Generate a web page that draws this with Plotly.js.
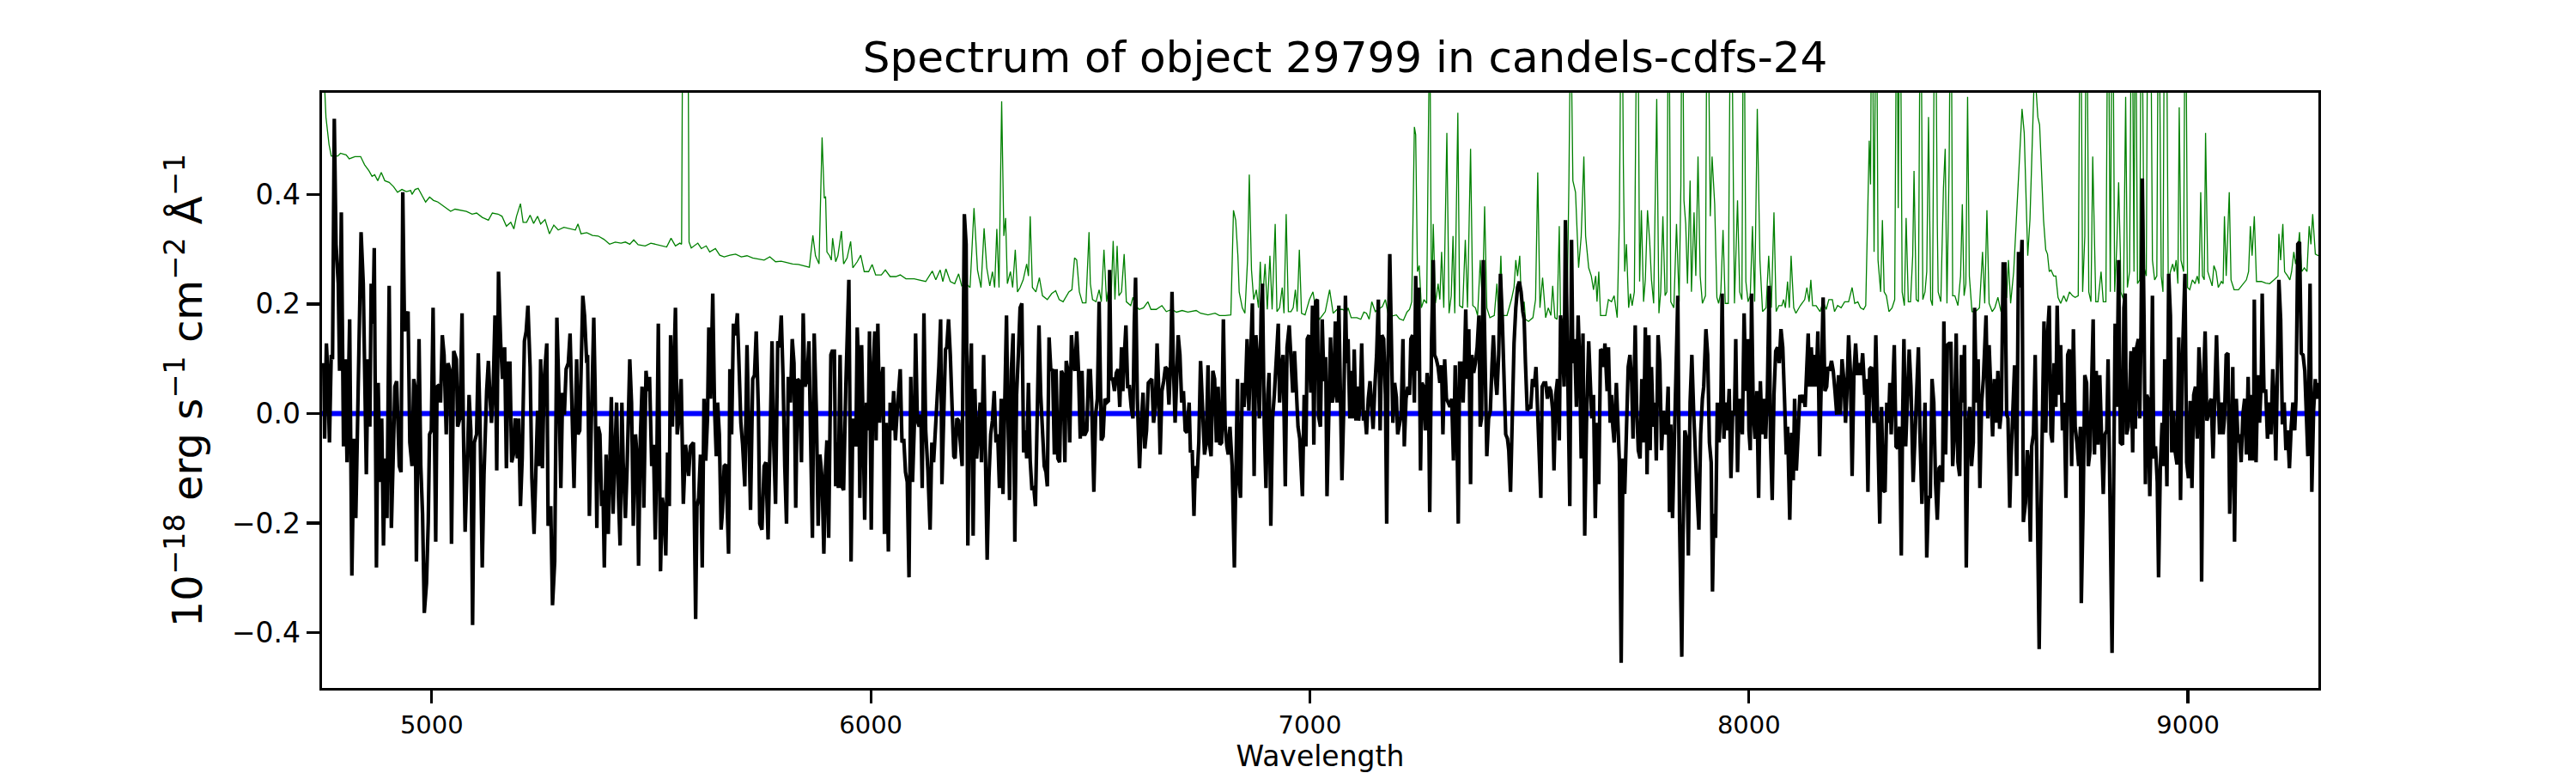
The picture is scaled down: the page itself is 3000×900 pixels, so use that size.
<!DOCTYPE html>
<html>
<head>
<meta charset="utf-8">
<script src="https://cdn.plot.ly/plotly-3.0.1.min.js"></script>
<style>
  html, body { margin: 0; padding: 0; background: #ffffff; }
  #plot { width: 3000px; height: 900px; }
</style>
</head>
<body>
<div id="plot"></div>
<script>
// spectrum of object 29799 - flux (black), noise (green), zero level (blue)

// flux (wavelength in Angstrom, flux in 1e-18 cgs)
const wave1 = [4754,4756,4760,4763,4767,4771,4774,4778,4782,4787,4790,4794,4799,4803,4807,4810,4813,4818,4823,4827,4830,4834,4839,4844,4851,4855,4859,4862,4866,4869,4874,4878,4882,4886,4890,4894,4898,4903,4908,4913,4916,4920,4926,4930,4934,4938,4942,4946,4950,4955,4959,4962,4965,4971,4975,4979,4983,4988,4992,4995,4999,5003,5009,5012,5017,5020,5024,5028,5033,5037,5042,5045,5050,5056,5059,5064,5069,5072,5076,5082,5085,5089,5093,5097,5102,5106,5110,5115,5119,5125,5129,5132,5136,5140,5144,5148,5152,5157,5161,5166,5170,5174,5178,5182,5186,5190,5195,5198,5202,5206,5211,5215,5219,5224,5228,5233,5237,5241,5245,5248,5252,5256,5262,5265,5271,5275,5280,5285,5290,5294,5298,5302,5306,5311,5315,5319,5324];
const flux1 = [0.092,-0.046,0.128,0.078,-0.053,0.107,0.099,0.538,0.309,0.237,0.078,0.367,-0.060,0.099,-0.089,0.078,0.172,-0.296,-0.046,-0.191,-0.038,0.164,0.331,0.237,-0.111,0.099,-0.024,0.237,0.164,0.302,-0.281,0.056,-0.125,-0.009,-0.241,-0.082,-0.191,0.233,-0.209,-0.053,0.049,0.059,-0.096,-0.107,0.404,0.150,0.179,0.186,-0.053,-0.096,0.063,0.049,-0.270,0.136,-0.096,-0.183,-0.364,-0.310,-0.198,-0.038,-0.031,0.193,-0.234,0.049,0.052,0.020,0.143,0.107,-0.038,0.092,0.078,-0.238,0.114,0.099,-0.024,-0.009,0.183,-0.024,-0.216,-0.060,0.034,-0.031,-0.386,-0.053,-0.038,0.110,-0.020,-0.281,-0.111,0.041,0.096,0.041,-0.017,0.049,0.179,-0.104,0.259,0.128,0.063,0.121,-0.100,0.092,0.092,-0.089,-0.075,-0.009,-0.082,-0.009,-0.169,-0.082,0.132,0.150,0.197,0.085,-0.118,-0.220,-0.082,0.005,-0.096,0.099,-0.100,0.063,0.128,-0.205,-0.169,-0.350,-0.270,0.175,0.027,-0.136,0.038,-0.002,0.081,0.092,0.146,-0.009,-0.136];

const wave2 = [5330,5333,5337,5341,5344,5348,5353,5355,5359,5364,5369,5372,5376,5379,5383,5387,5390,5393,5397,5402,5405,5409,5413,5417,5421,5425,5429,5433,5436,5441,5445,5451,5455,5459,5464,5468,5471,5475,5479,5483,5488,5492,5496,5501,5505,5509,5513,5516,5521,5525,5529,5533,5537,5541,5544,5548,5552,5555,5559,5563,5568,5573,5578,5581,5585,5589,5593,5596,5601,5604,5608,5612,5616,5620,5624,5628,5631,5635,5640,5644,5648,5651,5655,5659,5662,5666,5670,5676,5679,5683,5687,5692,5696,5700,5704,5708,5713,5718,5722,5726,5731,5735,5739,5744,5747,5752,5757,5761,5766,5770,5775,5779,5783,5788,5792,5796,5800,5804,5808,5812,5817,5821,5825,5829,5833,5837,5842,5846,5850,5855,5859,5863,5867,5871,5876,5880,5884,5889,5893,5897,5900,5904,5909,5912];
const flux2 = [0.099,-0.038,-0.031,0.150,0.215,0.179,0.092,0.107,-0.187,0.005,0.175,0.049,-0.209,-0.024,-0.038,-0.169,-0.140,-0.281,-0.075,-0.220,-0.125,0.030,-0.183,-0.057,0.020,-0.147,-0.241,0.020,-0.089,-0.191,-0.096,0.099,0.020,-0.205,-0.038,-0.082,-0.278,-0.046,0.049,-0.172,0.078,0.041,0.067,-0.096,-0.057,-0.230,-0.060,0.164,-0.288,-0.154,-0.176,-0.259,-0.071,-0.169,0.143,-0.024,0.146,0.193,-0.038,-0.009,0.063,-0.165,-0.057,-0.078,-0.114,-0.060,-0.057,-0.053,-0.375,-0.169,-0.154,-0.075,-0.281,0.027,-0.086,-0.009,0.157,0.027,0.219,0.012,-0.078,0.020,-0.038,-0.212,-0.180,-0.096,-0.093,-0.256,0.081,-0.038,0.164,0.143,0.183,0.099,-0.017,-0.057,-0.133,0.125,-0.017,-0.176,0.063,0.070,0.150,0.005,-0.201,-0.212,-0.096,-0.089,-0.230,-0.038,0.132,-0.060,-0.165,0.132,0.121,0.179,0.070,-0.096,-0.201,0.067,0.020,0.136,0.092,-0.172,0.063,0.059,-0.089,0.183,0.049,0.063,0.132,-0.053,-0.227,0.146,0.005,-0.205,-0.075,-0.118,-0.256,-0.096,-0.049,-0.227,0.107,0.114];

const wave3 = [5917,5920,5924,5926,5930,5934,5938,5943,5947,5950,5955,5959,5962,5966,5969,5972,5975,5979,5983,5986,5990,5994,5997,6001,6005,6009,6012,6016,6020,6024,6028,6031,6035,6040,6044,6048,6052,6056,6059,6063,6067,6071,6075,6079,6083,6087,6091,6095,6099,6102,6106,6110,6114,6117,6121,6125,6130,6135,6139,6143,6147,6151,6155,6159,6162,6166,6170,6173,6177,6181,6185,6189,6192,6196,6200,6204,6208,6213,6217,6221,6225,6229,6233,6237,6241,6245,6249,6252,6257,6260,6265,6269,6273,6277,6281,6285,6289,6293,6297,6301,6305,6309,6312,6316,6320,6324,6328,6332,6336,6340,6344,6348,6352,6355,6359,6363,6367,6371,6375,6379,6383,6387,6391,6395,6399,6402,6406,6410,6414,6418,6422,6426,6430,6434,6438,6442,6445,6449,6453,6457,6461,6465,6469,6473,6477,6481,6485,6488,6492,6496];
const flux3 = [0.114,-0.133,-0.053,-0.136,0.107,-0.133,-0.140,0.049,0.136,0.244,-0.270,-0.009,-0.038,-0.060,0.157,0.092,-0.154,0.125,-0.046,-0.194,0.020,-0.031,0.150,-0.212,0.078,0.150,-0.049,0.164,-0.017,0.063,0.085,-0.220,-0.017,-0.252,0.020,-0.031,0.041,-0.049,-0.009,0.034,0.081,-0.053,-0.046,-0.107,-0.125,-0.299,0.067,-0.125,-0.024,0.146,-0.013,-0.024,-0.002,-0.136,0.183,-0.031,-0.104,-0.212,-0.053,-0.089,-0.042,0.027,0.085,0.172,-0.129,0.034,0.117,0.121,0.172,0.107,0.020,-0.078,-0.082,-0.009,-0.013,-0.067,-0.096,0.364,0.309,-0.241,0.049,0.128,-0.223,0.045,-0.082,-0.031,0.020,-0.089,0.107,-0.024,-0.267,-0.118,-0.038,-0.013,0.041,-0.053,-0.038,-0.136,0.027,-0.147,0.023,0.179,0.012,-0.158,0.078,0.146,-0.234,0.034,0.107,0.193,0.201,-0.071,-0.031,-0.082,0.056,-0.086,-0.140,-0.133,-0.169,0.038,0.161,0.034,-0.053,-0.096,-0.107,-0.133,0.139,0.078,0.081,-0.075,0.081,-0.082,-0.089,0.078,0.070,-0.089,0.096,0.078,-0.053,0.143,0.088,0.078,0.150,0.078,-0.046,0.078,-0.038,-0.038,-0.031,0.078];

const wave4 = [6500,6503,6508,6512,6516,6520,6525,6529,6533,6537,6541,6544,6547,6551,6555,6559,6563,6567,6571,6574,6577,6581,6585,6589,6593,6597,6600,6603,6607,6612,6616,6620,6624,6628,6632,6636,6640,6644,6648,6652,6655,6659,6663,6667,6671,6675,6679,6683,6686,6689,6693,6696,6700,6704,6708,6712,6716,6720,6725,6728,6732,6736,6739,6743,6747,6751,6755,6760,6764,6768,6771,6775,6779,6783,6787,6791,6795,6799,6803,6807,6811,6814,6818,6823,6828,6831,6835,6838,6842,6846,6850,6854,6857,6861,6865,6869,6873,6877,6881,6885,6889,6892,6896,6900,6904,6907,6911,6915,6919,6923,6928,6931,6935,6939,6944,6948,6953,6957,6961,6965,6969,6973,6977,6983,6987,6991,6994,6998,7002,7006,7009,7013,7017,7020,7024,7028,7032,7036,7039,7043,7047,7051,7054,7058,7062,7066,7069,7073,7077,7081,7084];
const flux4 = [0.078,0.020,-0.143,-0.002,0.027,0.204,-0.049,-0.042,0.027,0.020,0.023,0.262,0.063,0.063,0.041,0.074,0.081,0.012,0.121,0.041,0.099,0.161,0.049,0.049,0.012,-0.009,0.164,0.248,0.027,-0.100,-0.017,0.038,-0.064,-0.031,0.056,0.059,0.063,-0.017,0.012,0.128,0.063,-0.075,0.041,0.059,0.085,0.081,0.016,0.099,0.222,0.092,-0.017,0.049,0.143,0.107,0.020,0.041,-0.031,-0.035,0.020,-0.071,-0.067,-0.187,-0.096,-0.118,-0.053,0.096,0.005,-0.075,-0.053,0.088,-0.053,-0.078,0.078,0.063,-0.053,0.049,-0.057,-0.053,0.172,-0.024,-0.060,-0.075,-0.024,-0.096,-0.281,-0.125,0.063,-0.118,-0.154,0.056,0.012,0.059,0.136,0.005,0.092,0.201,-0.114,0.143,0.099,-0.009,0.186,0.237,-0.017,-0.136,0.034,0.074,-0.205,-0.009,0.034,0.107,0.164,0.020,0.085,0.107,-0.133,0.121,0.161,0.099,0.038,0.114,0.041,-0.024,-0.046,-0.151,0.034,-0.060,0.136,0.143,0.038,0.197,-0.057,0.204,0.208,-0.006,-0.024,0.172,0.059,0.103,-0.151,0.005,0.139,0.020,0.034,0.168,0.020,0.197,0.063,-0.122,0.005,0.215,0.092];

const wave5 = [7087,7091,7095,7098,7101,7105,7108,7111,7115,7118,7122,7125,7129,7133,7137,7140,7144,7148,7152,7156,7160,7164,7168,7172,7175,7178,7182,7185,7189,7193,7197,7200,7204,7208,7212,7215,7219,7223,7227,7230,7234,7238,7241,7245,7248,7252,7255,7259,7263,7267,7270,7273,7277,7281,7284,7288,7292,7296,7300,7303,7307,7311,7315,7319,7323,7327,7331,7335,7338,7341,7345,7349,7352,7355,7358,7362,7366,7369,7373,7377,7381,7385,7388,7391,7395,7399,7403,7407,7411,7415,7418,7422,7426,7430,7434,7438,7442,7446,7450,7453,7457,7461,7465,7469,7473,7477,7481,7485,7488,7491,7495,7499,7503,7507,7511,7515,7519,7523,7526,7529,7533,7537,7541,7545,7549,7553,7556,7560,7564,7568,7571,7575,7579,7582,7586,7589,7592,7596,7599,7603,7607,7611,7614,7618,7622,7626,7630,7635,7639,7642,7646,7650,7654,7658,7662,7666,7669,7672];
const flux5 = [0.136,-0.009,0.078,-0.009,0.117,-0.013,0.049,-0.013,0.027,0.128,-0.013,0.005,-0.038,0.027,0.059,0.020,-0.028,0.049,0.107,0.208,-0.031,0.143,0.136,0.034,-0.201,0.099,0.291,0.164,-0.017,0.056,0.030,-0.038,-0.017,-0.002,0.136,-0.060,0.027,0.049,0.034,0.136,0.143,0.020,0.251,0.078,0.230,-0.104,0.056,0.049,-0.031,0.074,0.049,-0.180,0.128,0.280,0.107,0.099,0.085,0.056,0.088,-0.038,0.099,0.027,0.020,0.012,0.027,-0.086,0.088,-0.038,-0.201,0.092,0.092,0.020,0.092,0.190,0.063,0.154,-0.129,0.107,0.074,0.092,0.121,0.179,-0.024,-0.009,0.280,0.085,-0.078,-0.009,0.005,0.092,0.143,0.070,0.034,0.107,0.255,0.179,0.092,-0.038,-0.046,-0.067,-0.143,0.027,0.128,0.193,0.230,0.241,0.222,0.186,0.172,0.092,0.005,0.012,0.009,0.063,0.049,0.085,-0.009,-0.096,-0.154,0.049,0.056,0.056,0.027,0.049,0.041,0.005,-0.104,0.034,0.063,-0.049,0.179,0.136,0.049,0.353,0.164,-0.017,-0.169,0.317,0.092,0.136,0.012,0.179,0.107,-0.082,0.146,-0.223,-0.017,0.132,0.041,-0.009,0.034,-0.191,-0.017,-0.129,0.117,0.114,0.085,0.128];

const wave6 = [7677,7680,7684,7687,7690,7693,7698,7701,7705,7709,7713,7717,7721,7725,7729,7733,7736,7741,7744,7748,7752,7756,7760,7764,7768,7772,7775,7778,7782,7786,7789,7793,7797,7801,7805,7809,7812,7816,7819,7822,7826,7830,7834,7838,7842,7847,7850,7854,7858,7862,7866,7870,7874,7878,7882,7886,7890,7894,7897,7902,7906,7910,7914,7917,7920,7924,7928,7932,7936,7939,7943,7947,7951,7955,7959,7963,7967,7970,7974,7978,7982,7985,7989,7993,7997,8000,8003,8006,8010,8014,8018,8022,8026,8030,8034,8038,8042,8046,8049,8053,8057,8061,8065,8069,8073,8077,8081,8085,8088,8093,8097,8101,8104,8108,8112,8116,8120,8124,8128,8132,8135,8138,8142,8146,8150,8153,8157,8161,8165,8169,8173,8177,8180,8184,8188,8192,8196,8200,8204,8208,8212,8216,8220,8223,8227,8231,8235,8239,8243,8247,8251,8255,8259];
const flux6 = [0.041,0.121,-0.017,0.034,-0.024,-0.053,0.056,-0.031,-0.089,-0.455,-0.082,-0.147,-0.002,0.085,0.107,0.056,-0.046,0.161,0.020,-0.067,-0.082,0.063,-0.053,0.157,-0.111,0.143,-0.067,0.085,-0.024,0.020,-0.086,0.143,0.092,-0.067,0.005,-0.038,-0.031,0.049,-0.180,-0.020,-0.191,-0.067,0.107,0.215,-0.198,-0.444,-0.220,-0.031,-0.046,-0.259,0.020,0.107,0.005,-0.089,-0.147,-0.212,-0.038,0.027,0.049,0.154,0.107,-0.053,-0.089,-0.325,-0.183,-0.227,0.020,-0.053,0.012,0.219,-0.046,0.020,-0.031,0.045,-0.118,0.005,-0.002,0.136,-0.107,0.027,-0.009,-0.038,0.183,0.041,0.136,-0.031,-0.067,0.219,-0.002,-0.046,0.041,-0.154,0.059,-0.038,0.027,-0.046,0.041,0.233,-0.046,-0.158,0.034,0.114,0.121,0.092,0.154,0.121,0.027,-0.075,-0.024,-0.194,-0.035,-0.122,0.027,-0.104,-0.038,0.034,0.020,0.034,0.012,0.092,0.146,0.049,0.121,0.049,0.107,0.049,0.150,-0.078,0.049,0.212,0.041,0.049,0.085,0.078,0.096,0.078,0.041,-0.002,0.070,-0.002,0.099,0.063,-0.017,0.034,0.143,0.078,-0.114,0.070,0.128,0.070,0.092,0.070,0.110];

const wave7 = [8264,8267,8271,8275,8279,8283,8285,8289,8293,8298,8302,8306,8310,8314,8318,8321,8324,8328,8331,8335,8339,8343,8347,8350,8353,8357,8361,8365,8369,8374,8378,8382,8386,8390,8394,8398,8401,8405,8409,8413,8417,8421,8425,8429,8433,8437,8441,8444,8448,8452,8456,8460,8464,8468,8472,8476,8480,8484,8488,8491,8495,8499,8503,8507,8511,8514,8518,8522,8526,8530,8534,8540,8544,8547,8551,8555,8559,8563,8567,8571,8575,8579,8583,8587,8590,8594,8597,8601,8605,8610,8614,8618,8622,8625,8630,8634,8637,8641,8644,8648,8652,8656,8661,8665,8669,8672,8676,8680,8684,8688,8691,8695,8699,8702,8706,8710,8714,8718,8722,8726,8730,8735,8739,8743,8747,8751,8755,8757,8761,8765,8769,8773,8777,8781,8784,8787,8791,8795,8799,8803,8807,8811,8815,8818,8823,8827,8830,8834,8838,8842,8846];
const flux7 = [0.034,0.063,-0.143,0.081,0.085,0.020,-0.017,0.143,-0.017,-0.201,0.012,-0.140,-0.143,0.020,-0.017,0.056,-0.038,0.063,0.125,-0.060,-0.064,-0.024,-0.259,-0.009,0.136,-0.060,0.034,0.117,0.049,-0.125,-0.046,0.049,0.121,-0.053,-0.165,-0.067,0.020,-0.263,-0.151,-0.154,0.063,0.020,-0.125,-0.194,-0.100,-0.096,-0.125,0.168,-0.075,0.125,0.128,0.128,-0.096,-0.038,0.146,-0.089,-0.114,0.107,0.020,0.125,-0.281,-0.024,0.012,-0.096,-0.053,0.193,0.020,0.099,-0.136,0.020,0.063,0.179,-0.009,0.125,0.020,-0.042,0.063,-0.017,0.078,-0.028,0.005,0.273,0.273,-0.002,-0.009,-0.172,-0.082,-0.009,0.088,-0.114,0.295,0.230,0.317,-0.198,-0.162,-0.067,-0.089,-0.234,-0.060,-0.038,0.107,-0.114,-0.430,-0.183,-0.009,0.168,-0.035,0.143,0.197,-0.038,-0.053,0.092,0.012,0.197,0.034,0.125,-0.031,0.020,-0.154,0.107,0.117,-0.096,0.154,-0.024,-0.053,-0.096,-0.024,-0.346,-0.176,0.070,0.056,-0.096,-0.067,0.056,0.172,-0.075,0.078,-0.057,0.070,-0.038,-0.147,-0.038,-0.031,0.099,-0.198,-0.437,-0.191,0.164,0.012,0.280,-0.053];

const wave8 = [8851,8854,8857,8860,8864,8867,8870,8874,8877,8880,8883,8887,8890,8893,8896,8900,8903,8906,8909,8913,8916,8919,8922,8926,8930,8933,8937,8941,8944,8947,8952,8956,8960,8963,8967,8971,8975,8979,8983,8987,8990,8993,8997,9001,9005,9009,9013,9017,9021,9025,9029,9031,9035,9039,9043,9047,9051,9053,9057,9061,9065,9068,9072,9076,9080,9083,9087,9091,9095,9099,9102,9106,9110,9114,9117,9121,9125,9129,9133,9137,9141,9145,9149,9151,9155,9159,9163,9167,9169,9173,9177,9181,9185,9189,9193,9197,9200,9204,9207,9211,9215,9219,9223,9227,9231,9235,9239,9243,9246,9250,9254,9258,9262,9266,9270,9273,9278,9282,9286,9290,9293,9297];
const flux8 = [-0.057,0.193,0.219,-0.038,-0.024,0.034,0.114,-0.071,0.121,-0.028,0.121,0.136,-0.009,0.150,0.429,0.164,-0.129,0.034,0.027,-0.151,-0.031,0.215,-0.082,-0.060,-0.125,-0.299,-0.096,-0.017,-0.096,0.099,-0.133,0.255,0.179,-0.071,0.005,-0.071,-0.093,0.139,-0.158,0.092,0.186,0.255,-0.089,-0.118,0.023,-0.136,0.034,0.049,-0.046,0.121,0.049,-0.307,0.049,0.150,-0.013,-0.002,0.023,0.027,-0.082,0.020,0.143,0.049,-0.038,0.020,-0.038,-0.009,0.107,0.110,-0.183,-0.053,0.085,-0.234,0.027,-0.053,-0.038,-0.089,-0.002,0.027,-0.075,0.067,-0.086,0.034,-0.086,0.208,-0.089,0.070,-0.017,0.063,0.219,0.041,0.041,-0.046,0.020,-0.038,0.081,0.012,-0.086,0.092,0.244,0.172,-0.020,0.020,-0.067,-0.031,-0.100,-0.024,0.020,-0.031,0.027,0.309,0.313,0.110,0.107,0.078,-0.002,-0.078,0.237,-0.143,0.005,0.063,0.027,0.056];

// noise spectrum (green); sky lines that run off the top are given rough values
const noiseWave = [
  4751,4753,4759,4766,4771,4786,4792,4805,4812,4825,4838,4847,4857,4864,4870,4877,4885,4893,4903,4913,4922,4932,4942,4952,4955,4962,4969,4978,4986,4995,5004,5014,5027,5043,5053,5066,5079,5092,5102,5115,5129,5138,5151,5160,5170,5180,5187,5193,5202,5208,5216,5224,5232,5241,5248,5258,5268,5278,5288,5301,5314,
  5327,5333,5340,5353,5366,5379,5392,5405,5418,5431,5441,5451,5460,5470,5486,5499,5516,5529,5535,5545,5555,5565,5569,5573,5577,5582,5586,5591,5597,5606,5614,5625,5633,5646,5656,5666,5679,5692,5705,5718,5731,5744,5757,5770,5783,5796,5809,5822,5835,5848,5860,5868,5874,5882,5889,5894,5897,5900,5906,5910,
  5913,5920,5925,5933,5938,5946,5954,5959,5969,5977,5985,5995,6003,6011,6024,6033,6044,6057,6067,6080,6099,6109,6125,6140,6148,6158,6164,6171,6181,6191,6200,6207,6217,6226,6235,6243,6251,6258,6264,6271,6277,6282,6287,6292,6298,6303,6307,6311,6318,6323,6329,6334,6340,6347,6355,6359,6363,6368,6376,6384,6391,6402,6412,6421,6429,6438,6451,6458,6464,6469,6475,6482,6490,6497,
  6500,6505,6513,6520,6525,6531,6537,6543,6547,6552,6556,6561,6565,6571,6577,6582,6592,6597,6603,6611,6621,6631,6638,6650,6663,6673,6686,6696,6709,6722,6732,6741,6751,6768,6784,6794,6807,6820,6826,6831,6836,6839,6846,6852,6858,6862,6867,6872,6878,6883,6887,6891,6898,6903,6909,6914,6921,6925,6931,6937,6941,6946,6951,6957,6962,6967,6971,6976,6981,6989,6999,7007,7015,7022,7035,7045,7053,7062,7074,7084,
  7087,7094,7107,7116,7123,7129,7135,7141,7149,7155,7165,7172,7178,7188,7197,7204,7213,7221,7227,7232,7238,7241,7245,7249,7254,7260,7266,7273,7277,7281,7286,7292,7296,7300,7305,7312,7317,7322,7326,7330,7337,7341,7348,7354,7359,7366,7371,7377,7382,7388,7393,7398,7403,7410,7420,7426,7430,7435,7439,7449,7459,7465,7469,7473,7478,7482,7488,7491,7498,7508,7514,7519,7524,7530,7537,7543,7549,7553,7558,7563,7568,7571,7577,7586,7590,7594,7599,7605,7612,7618,7624,7628,7635,7641,7646,7651,7654,7658,7662,7669,
  7674,7680,7687,7693,7700,7705,7710,7714,7717,7721,7726,7730,7734,7739,7746,7751,7755,7760,7764,7769,7774,7778,7783,7790,7795,7799,7804,7809,7813,7817,7822,7829,7835,7841,7845,7848,7852,7856,7860,7866,7869,7875,7879,7884,7889,7894,7901,7905,7912,7916,7922,7927,7931,7936,7941,7946,7953,7959,7964,7967,7974,7979,7984,7988,7993,7998,8003,8008,8013,8019,8025,8031,8039,8045,8051,8057,8062,8068,8075,8079,8083,8088,8092,8096,8102,8107,8117,8127,8132,8137,8141,8145,8153,8162,8169,8176,8182,8190,8195,8202,8210,8218,8227,8235,8241,8248,8254,
  8261,8266,8270,8274,8277,8280,8285,8290,8294,8300,8304,8308,8313,8319,8326,8332,8337,8340,8344,8349,8354,8358,8363,8368,8373,8376,8381,8386,8391,8396,8401,8405,8409,8414,8418,8424,8429,8431,8437,8443,8447,8451,8456,8460,8464,8469,8476,8482,8486,8490,8494,8498,8502,8508,8516,8525,8532,8537,8542,8547,8554,8560,8567,8574,8580,8587,8591,8596,8603,8609,8616,8622,8627,8631,8635,8640,8645,8650,8654,8658,8662,8668,8671,8676,8680,8684,8688,8694,8699,8704,8710,8717,8723,8730,8737,8743,8750,8755,8760,8765,8769,8774,8779,8783,8786,8790,8795,8802,8807,8813,8818,8823,8828,8833,8838,8842,8846,
  8847,8853,8858,8862,8867,8872,8877,8880,8885,8890,8894,8900,8905,8909,8914,8919,8924,8929,8933,8939,8943,8947,8950,8955,8960,8965,8969,8973,8977,8980,8984,8990,8994,8999,9004,9010,9016,9021,9025,9029,9033,9037,9040,9045,9050,9055,9059,9064,9069,9076,9080,9083,9087,9094,9098,9105,9115,9125,9133,9138,9142,9146,9151,9156,9167,9177,9186,9196,9205,9207,9211,9216,9220,9227,9232,9236,9241,9245,9250,9254,9259,9265,9271,9276,9280,9284,9290,9297
];
const noiseFlux = [
  0.80,0.65,0.541,0.491,0.470,0.470,0.475,0.472,0.465,0.469,0.469,0.454,0.443,0.433,0.436,0.425,0.440,0.425,0.422,0.414,0.404,0.409,0.405,0.407,0.400,0.409,0.411,0.398,0.386,0.395,0.389,0.386,0.378,0.369,0.373,0.371,0.369,0.364,0.366,0.358,0.353,0.366,0.364,0.360,0.342,0.349,0.337,0.360,0.383,0.349,0.349,0.362,0.347,0.360,0.346,0.354,0.328,0.344,0.335,0.340,0.338,
  0.335,0.346,0.328,0.330,0.325,0.324,0.318,0.309,0.313,0.311,0.313,0.309,0.317,0.308,0.306,0.311,0.308,0.306,0.304,0.320,0.306,0.311,0.309,1.0,1.6,1.0,0.313,0.302,0.306,0.311,0.301,0.306,0.295,0.301,0.289,0.286,0.289,0.291,0.286,0.288,0.284,0.282,0.280,0.286,0.277,0.278,0.275,0.273,0.272,0.270,0.267,0.325,0.288,0.273,0.504,0.393,0.396,0.295,0.288,0.280,
  0.320,0.277,0.288,0.333,0.273,0.284,0.314,0.266,0.277,0.289,0.259,0.259,0.272,0.253,0.253,0.262,0.250,0.250,0.253,0.246,0.246,0.244,0.241,0.260,0.244,0.262,0.241,0.264,0.241,0.237,0.255,0.233,0.237,0.230,0.375,0.262,0.230,0.338,0.266,0.233,0.259,0.230,0.337,0.230,0.570,0.324,0.357,0.237,0.259,0.230,0.299,0.222,0.230,0.244,0.273,0.251,0.360,0.230,0.222,0.248,0.215,0.208,0.219,0.224,0.208,0.204,0.222,0.226,0.284,0.280,0.222,0.202,0.202,0.331,
  0.237,0.208,0.204,0.226,0.204,0.299,0.204,0.237,0.208,0.315,0.208,0.306,0.215,0.222,0.291,0.204,0.197,0.212,0.197,0.190,0.193,0.204,0.190,0.190,0.197,0.186,0.190,0.185,0.188,0.185,0.186,0.188,0.183,0.180,0.183,0.179,0.179,0.180,0.371,0.353,0.288,0.222,0.193,0.183,0.280,0.436,0.262,0.208,0.226,0.193,0.277,0.193,0.273,0.190,0.288,0.190,0.346,0.186,0.193,0.230,0.183,0.364,0.186,0.186,0.193,0.226,0.186,0.299,0.183,0.180,0.208,0.222,0.183,0.172,0.186,0.226,0.183,0.190,0.190,0.186,
  0.193,0.175,0.175,0.172,0.185,0.183,0.172,0.204,0.186,0.190,0.195,0.208,0.183,0.178,0.180,0.173,0.170,0.185,0.190,0.204,0.523,0.509,0.259,0.270,0.193,0.208,0.201,0.75,0.193,0.346,0.201,0.237,0.208,0.295,0.193,0.512,0.183,0.215,0.324,0.183,0.549,0.197,0.193,0.317,0.193,0.483,0.197,0.193,0.179,0.280,0.197,0.378,0.193,0.175,0.179,0.237,0.179,0.288,0.179,0.179,0.208,0.230,0.280,0.251,0.288,0.193,0.204,0.172,0.168,0.175,0.208,0.440,0.193,0.248,0.175,0.193,0.179,0.233,0.175,0.172,0.342,0.172,0.172,0.193,0.425,0.75,0.425,0.404,0.266,0.324,0.469,0.324,0.266,0.251,0.226,0.251,0.204,0.259,0.179,0.179,
  0.179,0.208,0.204,0.215,0.175,0.360,0.9,0.454,0.259,0.309,0.193,0.219,0.197,0.222,0.9,0.241,0.371,0.204,0.244,0.371,0.313,0.244,0.201,0.574,0.183,0.222,0.360,0.215,0.222,0.9,0.204,0.193,0.346,0.204,0.418,0.9,0.389,0.346,0.237,0.425,0.222,0.367,0.251,0.469,0.251,0.201,0.215,0.9,0.360,0.469,0.382,0.212,0.201,0.222,0.335,0.201,0.201,0.9,0.375,0.201,0.389,0.222,0.208,0.9,0.241,0.204,0.215,0.342,0.204,0.556,0.280,0.186,0.193,0.288,0.193,0.367,0.186,0.197,0.197,0.208,0.193,0.241,0.193,0.288,0.193,0.183,0.197,0.208,0.230,0.204,0.244,0.197,0.197,0.186,0.204,0.190,0.208,0.208,0.186,0.197,0.193,0.204,0.204,0.230,0.201,0.204,0.193,
  0.190,0.197,0.375,0.498,0.418,0.9,0.295,0.9,0.280,0.222,0.353,0.222,0.215,0.186,0.193,0.208,0.9,0.375,0.9,0.222,0.197,0.357,0.204,0.204,0.288,0.443,0.208,0.204,0.9,0.208,0.222,0.259,0.541,0.208,0.197,0.9,0.346,0.222,0.204,0.411,0.483,0.201,0.454,0.9,0.215,0.215,0.197,0.251,0.382,0.215,0.237,0.578,0.251,0.186,0.186,0.193,0.295,0.201,0.371,0.201,0.186,0.193,0.212,0.186,0.204,0.212,0.280,0.201,0.259,0.353,0.476,0.556,0.512,0.411,0.288,0.353,0.476,0.62,0.592,0.541,0.527,0.418,0.353,0.299,0.291,0.259,0.262,0.251,0.251,0.212,0.201,0.215,0.204,0.222,0.215,0.212,0.215,0.9,0.222,0.324,0.9,0.222,0.204,0.469,0.346,0.204,0.204,0.259,0.204,0.204,0.9,0.222,0.9,0.222,0.309,0.422,0.288,
  0.222,0.208,0.578,0.230,0.259,0.9,0.259,0.9,0.237,0.244,0.9,0.266,0.251,0.9,0.9,0.280,0.244,0.251,0.9,0.251,0.222,0.9,0.9,0.237,0.259,0.273,0.259,0.280,0.237,0.559,0.280,0.259,0.9,0.230,0.226,0.244,0.237,0.251,0.237,0.404,0.251,0.244,0.512,0.259,0.244,0.233,0.270,0.259,0.230,0.241,0.237,0.360,0.251,0.404,0.244,0.226,0.226,0.237,0.244,0.259,0.342,0.288,0.360,0.241,0.241,0.238,0.237,0.244,0.251,0.328,0.280,0.346,0.259,0.251,0.244,0.259,0.295,0.273,0.295,0.331,0.259,0.266,0.259,0.342,0.309,0.364,0.291,0.288
];

// zero level
const zeroWave = [4750, 9300];
const zeroFlux = [0, 0];

const xTicks = [5000, 6000, 7000, 8000, 9000];
const yTicks = [-0.4, -0.2, 0.0, 0.2, 0.4];
const yTickText = ['\u22120.4', '\u22120.2', '0.0', '0.2', '0.4'];

const waveParts = [wave1, wave2, wave3, wave4, wave5, wave6, wave7, wave8];
const fluxParts = [flux1, flux2, flux3, flux4, flux5, flux6, flux7, flux8];

// sanity check while transcribing: flag any piece where lengths differ
const problems = [];
waveParts.forEach((w, i) => {
    if (w.length !== fluxParts[i].length) problems.push('part ' + (i + 1) + ': ' + w.length + ' vs ' + fluxParts[i].length);
});
if (noiseWave.length !== noiseFlux.length) problems.push('noise: ' + noiseWave.length + ' vs ' + noiseFlux.length);

const specWave = [].concat(...waveParts);
const specFlux = [].concat(...fluxParts);

const font = 'DejaVu Sans, Liberation Sans, sans-serif';

const zeroTrace = {
    x: zeroWave,
    y: zeroFlux,
    mode: 'lines',
    line: { color: '#0000ff', width: 6 },
    hoverinfo: 'skip'
};

const noiseTrace = {
    x: noiseWave,
    y: noiseFlux,
    mode: 'lines',
    line: { color: '#008000', width: 1.3 },
    hoverinfo: 'skip'
};

const fluxTrace = {
    x: specWave,
    y: specFlux,
    mode: 'lines',
    line: { color: '#000000', width: 4.2 },
    hoverinfo: 'skip'
};

const layout = {
    width: 3000,
    height: 900,
    margin: { l: 375, r: 300, t: 108, b: 99, pad: 0 },
    paper_bgcolor: '#ffffff',
    plot_bgcolor: '#ffffff',
    showlegend: false,
    font: { family: font, color: '#000000' },
    title: {
        text: 'Spectrum of object 29799 in candels-cdfs-24',
        font: { family: font, size: 50, color: '#000000' },
        x: 0.5125,
        xanchor: 'center',
        xref: 'paper',
        y: 0.926,
        yanchor: 'middle',
        yref: 'container'
    },
    xaxis: {
        range: [4750, 9297],
        tickvals: xTicks,
        ticktext: xTicks.map(String),
        ticks: 'outside',
        ticklen: 15,
        tickwidth: 3.3,
        tickcolor: '#000000',
        tickfont: { family: font, size: 29 },
        showline: true,
        mirror: true,
        linecolor: '#000000',
        linewidth: 3.3,
        showgrid: false,
        zeroline: false,
        automargin: false,
        title: {
            text: 'Wavelength',
            font: { family: font, size: 33 },
            standoff: 8
        }
    },
    yaxis: {
        range: [-0.501, 0.5855],
        tickvals: yTicks,
        ticktext: yTickText,
        ticks: 'outside',
        ticklen: 15,
        tickwidth: 3.3,
        tickcolor: '#000000',
        tickfont: { family: font, size: 33 },
        showline: true,
        mirror: true,
        linecolor: '#000000',
        linewidth: 3.3,
        showgrid: false,
        zeroline: false,
        automargin: false,
        title: {
            text: '10<sup>\u221218</sup> erg s<sup>\u22121</sup> cm<sup>\u22122</sup> \u00c5<sup>\u22121</sup>',
            font: { family: font, size: 48 },
            standoff: 20
        }
    },
    annotations: problems.length ? [{
        text: problems.join(' | '),
        xref: 'paper', yref: 'paper', x: 0.5, y: 0.5,
        showarrow: false, font: { size: 40, color: 'red' }
    }] : []
};

const config = { displayModeBar: false, staticPlot: true };

Plotly.newPlot('plot', [zeroTrace, noiseTrace, fluxTrace], layout, config);
</script>
</body>
</html>
